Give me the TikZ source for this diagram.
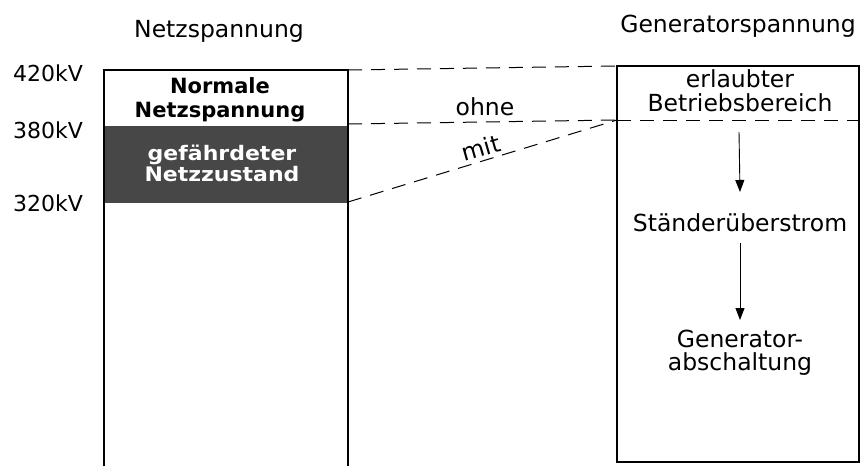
\documentclass[tikz,border=0pt]{standalone}
\usepackage{fontspec}
\setmainfont{DejaVu Sans}
\usetikzlibrary{arrows.meta}
\begin{document}
\begin{tikzpicture}[x=1pt,y=-1pt,
  frame/.style={line width=1.2pt,black},
  sep/.style={line width=1pt,dash pattern=on 14pt off 9pt},
  head/.style={font=\fontsize{23.5}{28}\selectfont,inner sep=0pt,anchor=base},
  volt/.style={font=\fontsize{22}{26}\selectfont,inner sep=0pt,anchor=base west},
  boxtxt/.style={font=\fontsize{23.5}{24}\selectfont,align=center,inner sep=0pt,anchor=base},
  flow/.style={line width=0.9pt,-{Triangle[length=12pt,width=9pt]}}]
\useasboundingbox (0,0) rectangle (866,466);
\fill[white] (0,0) rectangle (866,466);
% corner points of the two columns
\coordinate (LT) at (104,70);
\coordinate (RT) at (348,70);
\coordinate (LB) at (104,466);
\coordinate (RB) at (348,466);
\coordinate (L380) at (104,126);
\coordinate (R380) at (348,124);
\coordinate (L320) at (104,203);
\coordinate (R320) at (348,202);
\coordinate (GLT) at (617,66);
\coordinate (GRT) at (859,66);
\coordinate (GLB) at (617,462);
\coordinate (GRB) at (859,462);
\coordinate (GL) at (617,120);
\coordinate (GR) at (859,120);
% endangered band
\fill[black!72] (L380) rectangle (348,203);
% column headings
\node[head] (hnetz) at (219,37) {Netzspannung};
\node[head] (hgen) at (738,32) {Generatorspannung};
% voltage marks
\node[volt] (v420) at (13,81) {420kV};
\node[volt] (v380) at (13,138) {380kV};
\node[volt] (v320) at (13,211) {320kV};
% grid voltage column
\draw[frame] (LB) -- (LT) -- (RT) -- (RB);
\node[boxtxt,font=\fontsize{21}{24}\selectfont\bfseries] (normal) at (220,117) {Normale\\Netzspannung};
\node[boxtxt,font=\fontsize{20}{19}\selectfont\bfseries,text=white,xscale=1.1] (danger) at (222,181) {gefährdeter\\Netzzustand};
% generator voltage column
\draw[frame] (GLT) rectangle (GRB);
\draw[sep] (GL) -- (GR);
\node[boxtxt] (erlaubt) at (740,111) {erlaubter\\Betriebsbereich};
\node[boxtxt] (strom) at (740,231) {Ständerüberstrom};
\node[boxtxt,font=\fontsize{23.5}{23}\selectfont] (absch) at (740,370) {Generator-\\abschaltung};
\draw[flow] (739,132) -- (strom.north |- 0,192);
\draw[flow] (strom.south |- 0,243) -- (absch.north |- 0,320);
% links between the columns
\draw[sep] (RT) -- (GLT);
\draw[sep] (R380) -- (GL);
\draw[sep] (R320) -- (GL);
\node[head] (ohne) at (485,115) {ohne};
\node[head,anchor=center,rotate=16] (mit) at (481,148) {mit};
\end{tikzpicture}
\end{document}
